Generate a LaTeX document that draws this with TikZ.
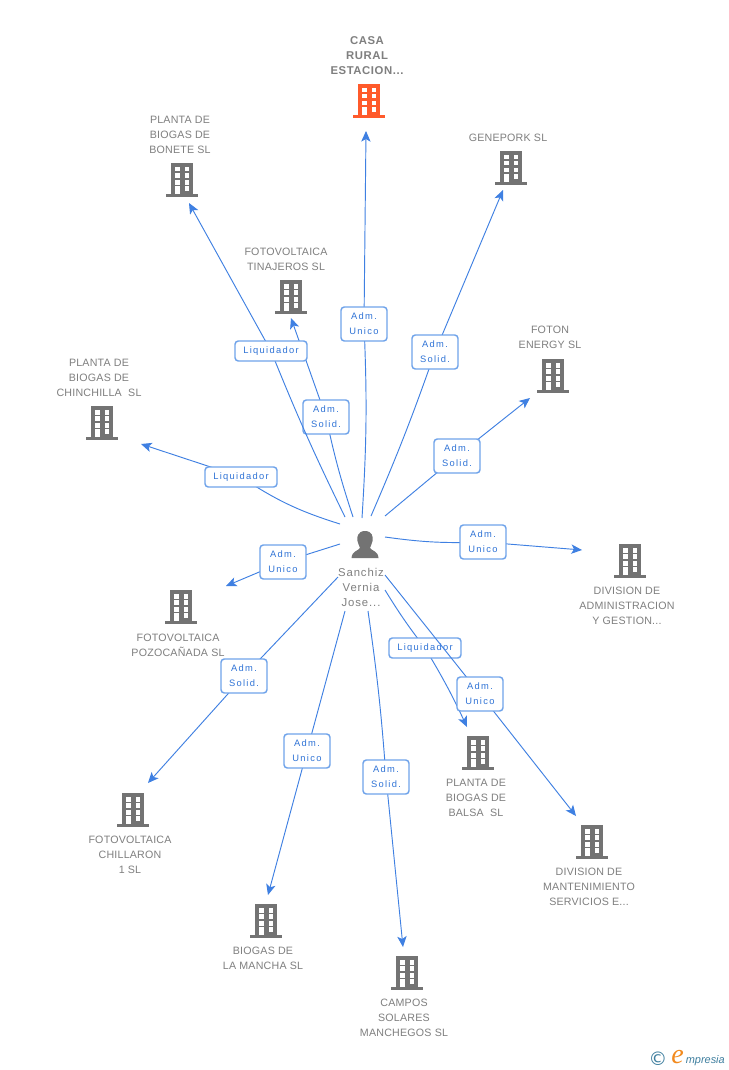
\documentclass[tikz,border=0pt]{standalone}
\usepackage{fontspec}
\setmainfont{Liberation Sans}
\newfontfamily\boxfont[LetterSpace=14]{Liberation Sans}
\newfontfamily\entfont[LetterSpace=2]{Liberation Sans}
\newfontfamily\hotfont[LetterSpace=5,BoldFont={Liberation Sans Bold}]{Liberation Sans}
\newfontfamily\perfont[LetterSpace=8]{Liberation Sans}
\newfontfamily\logofont{DejaVu Sans}
\newfontfamily\logoe{Liberation Serif}
\newfontfamily\logom{Liberation Sans}
\usetikzlibrary{arrows.meta}
\definecolor{linkc}{HTML}{3F80E2}
\definecolor{boxc}{HTML}{6FA3EA}
\definecolor{boxt}{HTML}{2F73D6}
\definecolor{greyt}{HTML}{7F7F7F}
\definecolor{icon}{HTML}{737373}
\definecolor{hot}{HTML}{FF5A2B}
\definecolor{logob}{HTML}{3F7F9F}
\definecolor{logoo}{HTML}{F28A1E}
\tikzset{
  x=0.75pt,y=-0.75pt,
  ent/.style={font=\entfont\fontsize{8}{11.25}\selectfont,text=greyt,align=center,inner sep=0pt},
  lbl/.style={font=\boxfont\fontsize{7}{11.25}\selectfont,text=boxt,align=center,draw=boxc,line width=1.1pt,
     fill=white,rounded corners=2.5pt,inner sep=0pt,minimum height=25.5pt,minimum width=34.5pt},
  lblw/.style={lbl,minimum height=15pt,minimum width=54pt},
  link/.style={draw=linkc,line width=0.7pt},
  tip/.style={link,-{Stealth[length=8pt,width=7pt,inset=2pt]}},
  slot/.style={inner sep=0pt,minimum width=24pt,minimum height=27pt},
}
% building icon: node name, x, y, colour
\newcommand{\bld}[4]{%
  \node[slot] (#1) at (#2,#3) {};
  \fill[#4] (#2-11,#3-17) rectangle (#2+11,#3+14);
  \fill[#4] (#2-16,#3+14) rectangle (#2+16,#3+17);
  \foreach \yy in {-13,-7,0}{
    \fill[white] (#2-7,#3+\yy) rectangle (#2-2.5,#3+\yy+4.5);
    \fill[white] (#2+2.5,#3+\yy) rectangle (#2+7,#3+\yy+4.5);
  }
  \fill[white] (#2-7,#3+6) rectangle (#2-2.5,#3+14);
  \fill[white] (#2+2.5,#3+6) rectangle (#2+7,#3+11);
}
% id, start, box centre, box style, text, tip, bend first part, bend second part
\newcommand{\linkbox}[8]{%
  \coordinate (s#1) at (#2);
  \coordinate (t#1) at (#6);
  \coordinate (b#1) at (#3);
  \draw[link] (s#1) to[#7] (b#1);
  \draw[tip] (b#1) to[#8] (t#1);
  \node[#4] (l#1) at (b#1) {#5};
}
\begin{document}
\begin{tikzpicture}
\useasboundingbox (0,0) rectangle (728,1070);
\fill[white] (0,0) rectangle (728,1070);
\linkbox{a}{362,518}{364,324}{lbl}{Adm.\\Unico}{366,131}{bend right=3}{bend left=0}
\linkbox{b}{371,516}{435,352}{lbl}{Adm.\\Solid.}{503,190}{bend right=2}{bend left=0}
\linkbox{c}{385,516}{457,456}{lbl}{Adm.\\Solid.}{530,398}{bend left=0}{bend left=0}
\linkbox{d}{353,517}{326,417}{lbl}{Adm.\\Solid.}{291,318}{bend left=3}{bend left=0}
\linkbox{e}{345,517}{271,351}{lblw}{Liquidador}{189,203}{bend left=2}{bend left=0}
\linkbox{f}{340,524}{241,477}{lblw}{Liquidador}{141,444}{bend left=8}{bend left=0}
\linkbox{g}{385,537}{483,542}{lbl}{Adm.\\Unico}{582,550}{bend right=5}{bend left=0}
\linkbox{h}{340,544}{283,562}{lbl}{Adm.\\Unico}{226,586}{bend left=0}{bend left=0}
\linkbox{i}{338,577}{244,676}{lbl}{Adm.\\Solid.}{148,783}{bend left=0}{bend left=0}
\linkbox{j}{345,611}{307,751}{lbl}{Adm.\\Unico}{268,895}{bend left=0}{bend left=0}
\linkbox{k}{368,611}{386,777}{lbl}{Adm.\\Solid.}{403,947}{bend left=2}{bend left=0}
\linkbox{m}{385,590}{425,648}{lblw}{Liquidador}{467,727}{bend right=3}{bend left=3}
\linkbox{n}{385,575}{480,694}{lbl}{Adm.\\Unico}{576,816}{bend left=0}{bend left=0}

\bld{casa}{369}{101}{hot}
\bld{bonete}{182}{180}{icon}
\bld{tinajeros}{291}{297}{icon}
\bld{genepork}{511}{168}{icon}
\bld{foton}{553}{376}{icon}
\bld{chinchilla}{102}{423}{icon}
\bld{admin}{630}{561}{icon}
\bld{pozo}{181}{607}{icon}
\bld{chillaron}{133}{810}{icon}
\bld{mancha}{266}{921}{icon}
\bld{campos}{407}{973}{icon}
\bld{balsa}{478}{753}{icon}
\bld{mant}{592}{842}{icon}

\node[ent,font=\hotfont\bfseries\fontsize{8.5}{11.25}\selectfont] (tcasa) at (367,55.5) {CASA\\RURAL\\ESTACION...};
\node[ent] (tbonete) at (180,134.5) {PLANTA DE\\BIOGAS DE\\BONETE SL};
\node[ent] (ttinajeros) at (286,259) {FOTOVOLTAICA\\TINAJEROS SL};
\node[ent] (tgenepork) at (508,137.5) {GENEPORK SL};
\node[ent] (tfoton) at (550,337.5) {FOTON\\ENERGY SL};
\node[ent] (tchinchilla) at (99,377.5) {PLANTA DE\\BIOGAS DE\\CHINCHILLA~~SL};
\node[ent] (tadmin) at (627,605.5) {DIVISION DE\\ADMINISTRACION\\Y GESTION...};
\node[ent] (tpozo) at (178,645) {FOTOVOLTAICA\\POZOCAÑADA SL};
\node[ent] (tchillaron) at (130,854.5) {FOTOVOLTAICA\\CHILLARON\\1 SL};
\node[ent] (tmancha) at (263,958) {BIOGAS DE\\LA MANCHA SL};
\node[ent] (tcampos) at (404,1017.5) {CAMPOS\\SOLARES\\MANCHEGOS SL};
\node[ent] (tbalsa) at (476,797.5) {PLANTA DE\\BIOGAS DE\\BALSA~~SL};
\node[ent] (tmant) at (589,886.5) {DIVISION DE\\MANTENIMIENTO\\SERVICIOS E...};

% person
\node[inner sep=0pt,minimum width=21pt,minimum height=21pt] (person) at (365,545) {};
\fill[icon] (365,531) .. controls (372,531) and (373.5,537) .. (372.5,541)
  .. controls (372,544) and (370.5,546) .. (370,548)
  .. controls (372,551) and (378,551) .. (378.5,558) -- (351.5,558)
  .. controls (352,551) and (358,551) .. (360,548)
  .. controls (359.5,546) and (358,544) .. (357.5,541)
  .. controls (356.5,537) and (358,531) .. (365,531) -- cycle;
\node[ent,font=\perfont\fontsize{8.5}{11.25}\selectfont] (tperson) at (361,587.5) {Sanchiz\\Vernia\\Jose...};

% logo
\node[inner sep=0pt,text=logob,font=\logofont\fontsize{14}{14}\selectfont] (copy) at (658,1059) {©};
\node[inner sep=0pt,anchor=base west,text=logoo,font=\logoe\itshape\fontsize{21}{21}\selectfont] (eword) at (671,1063.5) {e};
\node[inner sep=0pt,anchor=base east,text=logob,font=\logom\itshape\fontsize{8.2}{10}\selectfont] (mword) at (725,1063.5) {mpresia};
\end{tikzpicture}
\end{document}
